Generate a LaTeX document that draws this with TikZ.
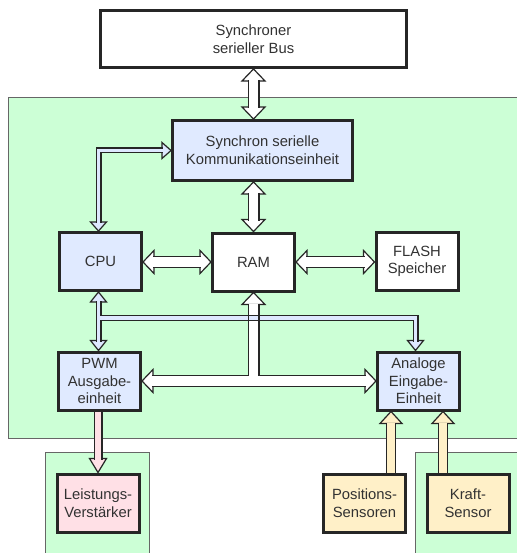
\documentclass[tikz,border=0pt]{standalone}
\usepackage{fontspec}
\setmainfont{Liberation Sans}
\usetikzlibrary{calc}

\definecolor{panelgreen}{RGB}{204,255,214}
\definecolor{unitblue}{RGB}{224,234,255}
\definecolor{pipeblue}{RGB}{222,232,255}
\definecolor{amppink}{RGB}{255,224,230}
\definecolor{sensoryellow}{RGB}{255,240,200}
\definecolor{ink}{RGB}{38,38,38}
\definecolor{txt}{RGB}{50,50,50}

% arrow heads: #1 tip point, #2 half width, #3 length, #4 fill colour
\newcommand\headS[4]{\filldraw[headline, fill=#4] (#1) -- ++(#2,-#3) -- ++(-2*#2,0) -- cycle;}
\newcommand\headN[4]{\filldraw[headline, fill=#4] (#1) -- ++(#2,#3) -- ++(-2*#2,0) -- cycle;}
\newcommand\headE[4]{\filldraw[headline, fill=#4] (#1) -- ++(-#3,#2) -- ++(0,-2*#2) -- cycle;}
\newcommand\headW[4]{\filldraw[headline, fill=#4] (#1) -- ++(#3,#2) -- ++(0,-2*#2) -- cycle;}

\tikzset{
  unit/.style={draw=ink, line width=3pt, minimum width=82pt, minimum height=58pt,
    inner sep=0pt, align=center, text=txt, font=\fontsize{14.8}{17.7}\selectfont},
  panel/.style={fill=panelgreen, draw=black!60, line width=0.8pt},
  headline/.style={draw=ink, line width=1.2pt, line join=miter},
  bigpipe/.style={draw=ink, line width=1.2pt, double=white, double distance=9.6pt},
  thinpipe/.style={draw=ink, line width=1.2pt, double=pipeblue, double distance=3.6pt},
  amppipe/.style={draw=ink, line width=1.2pt, double=amppink, double distance=6.6pt},
  sensorpipe/.style={draw=ink, line width=1.2pt, double=sensoryellow, double distance=8.4pt},
}

\begin{document}
\begin{tikzpicture}[x=1pt, y=-1pt]
\useasboundingbox (0,0) rectangle (516,553);
\fill[white] (0,0) rectangle (516,553);

% green panels
\draw[panel] (8,97) rectangle (530,438);
\draw[panel] (45,452) rectangle (149,570);
\draw[panel] (415,452) rectangle (530,570);

% units
\node[unit, fill=white, minimum width=306pt, minimum height=57pt] (bus) at (253.5,39) {Synchroner\\serieller Bus};
\node[unit, fill=unitblue, minimum width=180pt, minimum height=60pt] (comm) at (262.5,150.5) {Synchron serielle\\Kommunikationseinheit};
\node[unit, fill=unitblue] (cpu) at (100.5,261.5) {CPU};
\node[unit, fill=white] (ram) at (253.5,262) {RAM};
\node[unit, fill=white] (flash) at (417,261.5) {FLASH\\Speicher};
\node[unit, fill=unitblue] (pwm) at (99.5,381) {PWM\\Ausgabe-\\einheit};
\node[unit, fill=unitblue] (adc) at (418.5,381) {Analoge\\Eingabe-\\Einheit};
\node[unit, fill=amppink] (amp) at (98,503) {Leistungs-\\Verstärker};
\node[unit, fill=sensoryellow] (pos) at (364.5,503) {Positions-\\Sensoren};
\node[unit, fill=sensoryellow] (force) at (468,503) {Kraft-\\Sensor};

% connection points
\coordinate (busS) at (ram.center |- bus.south);
\coordinate (commN) at (ram.center |- comm.north);
\coordinate (commS) at (ram.center |- comm.south);
\coordinate (cpuE) at (cpu.east |- ram.center);
\coordinate (flashW) at (flash.west |- ram.center);
\coordinate (busjoin) at (ram.center |- pwm.center);
\coordinate (cpux) at ($(cpu.center)+(-2,0)$);
\coordinate (cpuN) at (cpux |- cpu.north);
\coordinate (cpuS) at (cpux |- cpu.south);
\coordinate (pwmN) at (cpux |- pwm.north);
\coordinate (commcorner) at (cpux |- comm.west);
\coordinate (fork) at (cpux |- 0,318);
\coordinate (bend) at (415.5,318);
\coordinate (adcN) at (bend |- adc.north);
\coordinate (pwmS) at (amp.north |- pwm.south);
\coordinate (posx) at ($(adc.south)+(-27.5,0)$);
\coordinate (forcex) at ($(adc.south)+(24.5,0)$);
\coordinate (posN) at (posx |- pos.north);
\coordinate (forceN) at (forcex |- force.north);

% heads of the wide white arrows
\headN{busS}{11.5}{12}{white}
\headS{commN}{11.5}{12}{white}
\headN{commS}{11.5}{12}{white}
\headS{ram.north}{11.5}{12}{white}
\headW{cpuE}{11.5}{11}{white}
\headE{ram.west}{11.5}{11}{white}
\headW{ram.east}{11.5}{11}{white}
\headE{flashW}{11.5}{11}{white}
\headN{ram.south}{11.5}{12}{white}
\headW{pwm.east}{11.5}{11}{white}
\headE{adc.west}{11.5}{11}{white}

% wide white shafts
\draw[bigpipe] ($(busS)+(0,11)$) -- ($(commN)+(0,-11)$);
\draw[bigpipe] ($(commS)+(0,11)$) -- ($(ram.north)+(0,-11)$);
\draw[bigpipe] ($(cpuE)+(10,0)$) -- ($(ram.west)+(-10,0)$);
\draw[bigpipe] ($(ram.east)+(10,0)$) -- ($(flashW)+(-10,0)$);
\draw[bigpipe] ($(ram.south)+(0,11)$) -- (busjoin)
               ($(pwm.east)+(10,0)$) -- ($(adc.west)+(-10,0)$);

% thin control lines from the CPU
\headS{cpuN}{8}{9}{pipeblue}
\headE{comm.west}{8}{9}{pipeblue}
\headN{cpuS}{8}{10}{pipeblue}
\headS{pwmN}{8}{10}{pipeblue}
\headS{adcN}{8}{10}{pipeblue}
\draw[thinpipe] ($(cpuN)+(0,-8)$) -- (commcorner) -- ($(comm.west)+(-8,0)$);
\draw[thinpipe] ($(cpuS)+(0,9)$) -- ($(pwmN)+(0,-9)$)
                (fork) -- (bend) -- ($(adcN)+(0,-9)$);
% edges of the RAM shaft where it crosses the control line
\draw[ink, line width=1.2pt] ($(ram.center |- fork)+(-5.4,-3.5)$) -- ++(0,7)
                             ($(ram.center |- fork)+(5.4,-3.5)$) -- ++(0,7);

% output to the power amplifier
\headS{amp.north}{8.5}{14}{amppink}
\draw[amppipe] (pwmS) -- ($(amp.north)+(0,-13)$);

% sensor inputs
\headN{posx}{11}{12}{sensoryellow}
\headN{forcex}{11}{12}{sensoryellow}
\draw[sensorpipe] (posN) -- ($(posx)+(0,11)$);
\draw[sensorpipe] (forceN) -- ($(forcex)+(0,11)$);
\end{tikzpicture}
\end{document}
